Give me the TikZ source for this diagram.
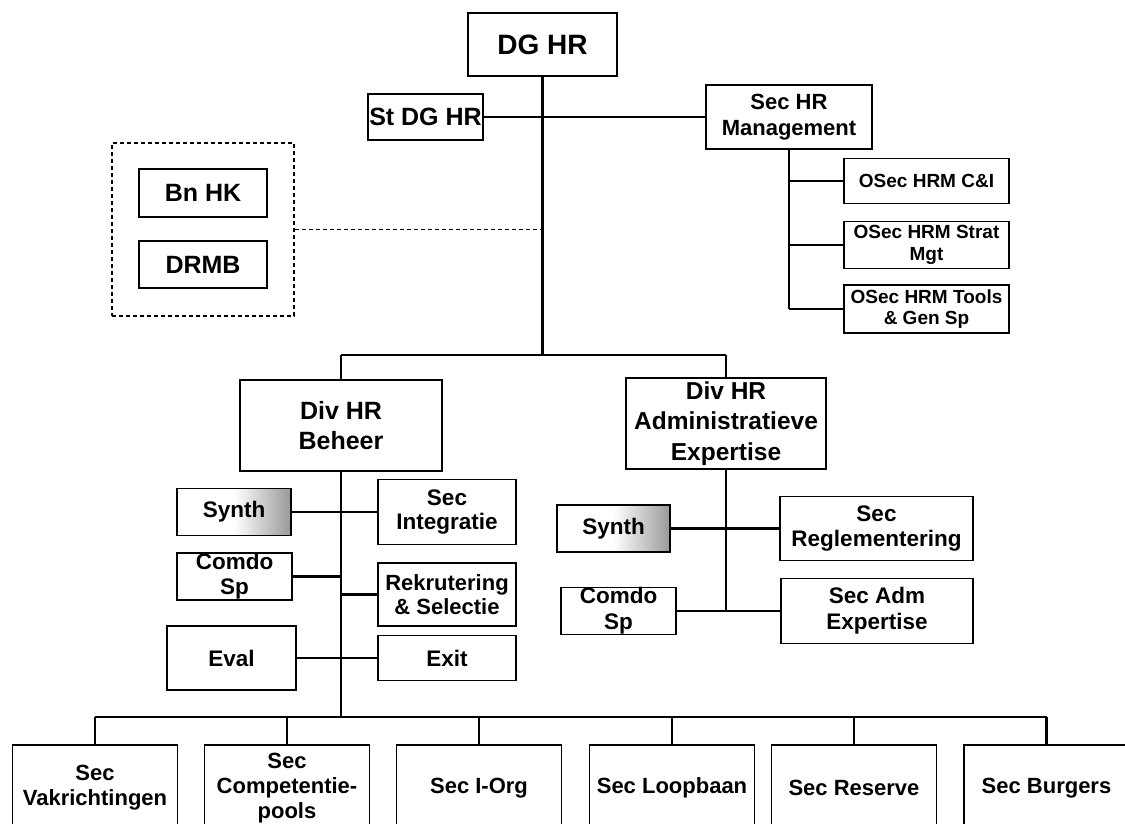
\documentclass[tikz,border=0pt]{standalone}
\usepackage{fontspec}
\setmainfont{Liberation Sans}
\newcommand\fz[2]{\fontsize{#1pt}{#2pt}\selectfont}
\tikzset{
  box/.style={draw=black, line width=1.8pt, fill=white, inner sep=0pt, rectangle},
  txt/.style={align=center, inner sep=0pt, text=black},
  conn/.style={line width=2.6pt, draw=black},
  dboxst/.style={draw=black, line width=1.5pt, dash pattern=on 4pt off 3pt, inner sep=0pt, rectangle},
  dline/.style={draw=black, line width=1.5pt, dash pattern=on 4pt off 3pt},
  syn/.style={left color=white, right color=black!40, middle color=white}
}
% name, x, y, w, h, box options, {font size}{skip}, text
\newcommand\bx[8]{%
  \node[box,minimum width=#4pt,minimum height=#5pt,#6] (#1) at (#2,#3) {};
  \node[txt,font=\bfseries\fz#7] (#1t) at (#1.center) {#8};}
\newcommand\bb[3]{%
  \node[box,minimum width=165pt,minimum height=110pt] (#1) at (#2,800) {};
  \node[txt,font=\bfseries\fz{22}{25}] (#1t) at (#2,788) {#3};}
\begin{document}
\begin{tikzpicture}[x=1pt,y=-1pt]
\useasboundingbox (0,0) rectangle (1125,823);
\clip (0,0) rectangle (1125,823);
\fill[white] (0,0) rectangle (1125,823);

% top
\bx{dg}{542.5}{44.5}{149}{63}{}{{28}{32}}{DG HR}
\bx{stdg}{425.5}{117}{115}{46}{}{{25}{28}}{St DG HR}
\bx{sechr}{789}{117}{166}{64}{}{{22}{26.5}}{Sec HR\\Management}
\bx{oa}{926.5}{181}{165}{45}{}{{19}{21.5}}{OSec HRM C\&I}
\bx{ob}{926.5}{245}{165}{47}{}{{19}{21.5}}{OSec HRM Strat\\Mgt}
\bx{oc}{926.5}{309}{165}{48}{}{{19}{21.5}}{OSec HRM Tools\\\& Gen Sp}

% dashed group
\node[dboxst,minimum width=182pt,minimum height=173pt] (grp) at (203,229.5) {};
\bx{bnhk}{203}{193}{128}{48}{}{{25}{28}}{Bn HK}
\bx{drmb}{203}{264.5}{128}{47}{}{{25}{28}}{DRMB}

% divisions
\bx{divb}{341}{425.5}{202}{91}{}{{25}{30.5}}{Div HR\\Beheer}
\bx{diva}{726}{423.5}{200}{91}{}{{24.5}{30.5}}{Div HR\\Administratieve\\Expertise}

% left group
\bx{synl}{234}{512}{114}{47}{syn}{{22.5}{24.5}}{Synth}
\bx{secint}{447}{512}{138}{65}{}{{22.5}{24.5}}{Sec\\Integratie}
\bx{comdl}{234.5}{576.5}{115}{47}{}{{22.5}{25}}{Comdo\\Sp}
\bx{rek}{447}{594.5}{138}{63}{}{{22}{24.5}}{Rekrutering\\\& Selectie}
\bx{eval}{231.5}{658}{129}{64}{}{{22.5}{24.5}}{Eval}
\bx{exit}{447}{658}{138}{45}{}{{22.5}{24.5}}{Exit}

% right group
\bx{synr}{613.5}{528.5}{113}{47}{syn}{{22.5}{24.5}}{Synth}
\bx{regl}{876.5}{528.5}{193}{64}{}{{22.5}{25}}{Sec\\Reglementering}
\bx{comdr}{618.5}{611}{115}{47}{}{{22.5}{26}}{Comdo\\Sp}
\bx{adm}{877}{611}{192}{65}{}{{22.5}{26}}{Sec Adm\\Expertise}

% bottom row
\bb{b1}{95}{Sec\\Vakrichtingen}
\bb{b2}{287}{Sec\\Competentie-\\pools}
\bb{b3}{479}{Sec I-Org}
\bb{b4}{672}{Sec Loopbaan}
\bb{b5}{854}{Sec Reserve}
\bb{b6}{1046.5}{Sec Burgers}

% junction coordinates
\coordinate (jt) at (542.5,355);
\coordinate (jl) at (341,355);
\coordinate (jr) at (726,355);
\coordinate (bj) at (341,717);

% connectors
\draw[conn] (dg.south) -- (jt);
\draw[conn] (jl) -- (jr);
\draw[conn] (jl) -- (divb.north);
\draw[conn] (jr) -- (diva.north);
\draw[conn] (stdg.east) -- (sechr.west);
\draw[dline] (grp.east) -- (grp.east -| dg.south);

\draw[conn] (sechr.south) -- (sechr.south |- oc.west);
\draw[conn] (sechr.south |- oa.west) -- (oa.west);
\draw[conn] (sechr.south |- ob.west) -- (ob.west);
\draw[conn] (sechr.south |- oc.west) -- (oc.west);

\draw[conn] (divb.south) -- (bj);
\draw[conn] (synl.east) -- (secint.west);
\draw[conn] (comdl.east) -- (comdl.east -| divb.south);
\draw[conn] (rek.west -| divb.south) -- (rek.west);
\draw[conn] (eval.east) -- (exit.west);

\draw[conn] (diva.south) -- (diva.south |- adm.west);
\draw[conn] (synr.east) -- (regl.west);
\draw[conn] (comdr.east) -- (adm.west);

\draw[conn] (b1.north |- bj) -- (b6.north |- bj);
\foreach \b in {b1,b2,b3,b4,b5,b6} {
  \draw[conn] (\b.north |- bj) -- (\b.north);
}
\end{tikzpicture}
\end{document}
